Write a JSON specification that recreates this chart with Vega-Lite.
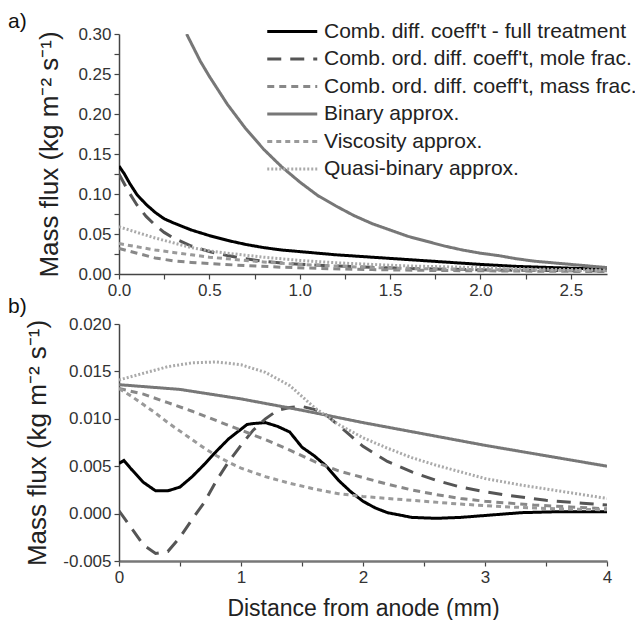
{
  "$schema": "https://vega.github.io/schema/vega-lite/v6.json",
  "padding": {"left": 8, "top": 11, "right": 5, "bottom": 0},
  "background": "white",
  "config": {
    "font": "Liberation Sans",
    "view": {"stroke": null},
    "axis": {"grid": false, "domainColor": "#444", "domainWidth": 1.5, "tickColor": "#444", "tickWidth": 1.2, "tickSize": 5, "labelFontSize": 17, "labelColor": "#333", "labelPadding": 3, "titleFontSize": 26, "titleFontWeight": "normal", "titleColor": "#222"},
    "title": {"fontSize": 21, "fontWeight": "normal", "color": "#111", "anchor": "start", "frame": "group"},
    "legend": {"labelLimit": 400, "title": null, "orient": "none", "legendX": 144, "legendY": -13, "symbolType": "M-1,0H7", "symbolSize": 156.25, "labelFontSize": 21, "labelColor": "#222", "labelOffset": 40, "rowPadding": 5.5, "padding": 0}
  },
  "datasets": {
    "a": [
      {"s":"F","x":0,"y":0.135},{"s":"F","x":0.03,"y":0.125},{"s":"F","x":0.06,"y":0.113},{"s":"F","x":0.1,"y":0.099},{"s":"F","x":0.15,"y":0.087},{"s":"F","x":0.2,"y":0.077},{"s":"F","x":0.25,"y":0.069},{"s":"F","x":0.3,"y":0.064},{"s":"F","x":0.4,"y":0.055},{"s":"F","x":0.5,"y":0.048},{"s":"F","x":0.6,"y":0.042},{"s":"F","x":0.7,"y":0.037},{"s":"F","x":0.8,"y":0.033},{"s":"F","x":0.9,"y":0.030},{"s":"F","x":1.0,"y":0.028},{"s":"F","x":1.2,"y":0.024},{"s":"F","x":1.4,"y":0.021},{"s":"F","x":1.6,"y":0.018},{"s":"F","x":1.8,"y":0.015},{"s":"F","x":2.0,"y":0.012},{"s":"F","x":2.2,"y":0.0095},{"s":"F","x":2.4,"y":0.008},{"s":"F","x":2.6,"y":0.0065},{"s":"F","x":2.7,"y":0.006},
      {"s":"Mo","x":0,"y":0.125},{"s":"Mo","x":0.05,"y":0.104},{"s":"Mo","x":0.1,"y":0.086},{"s":"Mo","x":0.15,"y":0.072},{"s":"Mo","x":0.2,"y":0.061},{"s":"Mo","x":0.25,"y":0.052},{"s":"Mo","x":0.3,"y":0.045},{"s":"Mo","x":0.4,"y":0.035},{"s":"Mo","x":0.5,"y":0.028},{"s":"Mo","x":0.6,"y":0.023},{"s":"Mo","x":0.7,"y":0.019},{"s":"Mo","x":0.8,"y":0.0158},{"s":"Mo","x":0.9,"y":0.0138},{"s":"Mo","x":1.0,"y":0.0122},{"s":"Mo","x":1.2,"y":0.0100},{"s":"Mo","x":1.4,"y":0.0083},{"s":"Mo","x":1.6,"y":0.0070},{"s":"Mo","x":1.8,"y":0.0060},{"s":"Mo","x":2.0,"y":0.0052},{"s":"Mo","x":2.3,"y":0.0045},{"s":"Mo","x":2.7,"y":0.0038},
      {"s":"Ma","x":0,"y":0.032},{"s":"Ma","x":0.1,"y":0.026},{"s":"Ma","x":0.2,"y":0.020},{"s":"Ma","x":0.3,"y":0.0165},{"s":"Ma","x":0.4,"y":0.0145},{"s":"Ma","x":0.5,"y":0.013},{"s":"Ma","x":0.7,"y":0.0105},{"s":"Ma","x":0.9,"y":0.0085},{"s":"Ma","x":1.1,"y":0.007},{"s":"Ma","x":1.4,"y":0.0055},{"s":"Ma","x":1.7,"y":0.0045},{"s":"Ma","x":2.0,"y":0.004},{"s":"Ma","x":2.35,"y":0.0035},{"s":"Ma","x":2.7,"y":0.003},
      {"s":"B","x":0.374,"y":0.30},{"s":"B","x":0.45,"y":0.266},{"s":"B","x":0.5,"y":0.247},{"s":"B","x":0.6,"y":0.212},{"s":"B","x":0.7,"y":0.182},{"s":"B","x":0.8,"y":0.156},{"s":"B","x":0.9,"y":0.134},{"s":"B","x":1.0,"y":0.115},{"s":"B","x":1.1,"y":0.098},{"s":"B","x":1.2,"y":0.085},{"s":"B","x":1.3,"y":0.073},{"s":"B","x":1.4,"y":0.063},{"s":"B","x":1.5,"y":0.055},{"s":"B","x":1.6,"y":0.047},{"s":"B","x":1.7,"y":0.041},{"s":"B","x":1.8,"y":0.035},{"s":"B","x":1.9,"y":0.030},{"s":"B","x":2.0,"y":0.026},{"s":"B","x":2.1,"y":0.023},{"s":"B","x":2.2,"y":0.019},{"s":"B","x":2.3,"y":0.016},{"s":"B","x":2.4,"y":0.014},{"s":"B","x":2.5,"y":0.012},{"s":"B","x":2.6,"y":0.010},{"s":"B","x":2.7,"y":0.008},
      {"s":"V","x":0,"y":0.038},{"s":"V","x":0.1,"y":0.034},{"s":"V","x":0.2,"y":0.030},{"s":"V","x":0.3,"y":0.027},{"s":"V","x":0.4,"y":0.024},{"s":"V","x":0.5,"y":0.021},{"s":"V","x":0.6,"y":0.019},{"s":"V","x":0.7,"y":0.017},{"s":"V","x":0.8,"y":0.015},{"s":"V","x":1.0,"y":0.012},{"s":"V","x":1.2,"y":0.010},{"s":"V","x":1.4,"y":0.008},{"s":"V","x":1.7,"y":0.0065},{"s":"V","x":2.0,"y":0.0055},{"s":"V","x":2.3,"y":0.0048},{"s":"V","x":2.7,"y":0.004},
      {"s":"Q","x":0,"y":0.059},{"s":"Q","x":0.1,"y":0.052},{"s":"Q","x":0.2,"y":0.045},{"s":"Q","x":0.3,"y":0.039},{"s":"Q","x":0.4,"y":0.033},{"s":"Q","x":0.5,"y":0.029},{"s":"Q","x":0.6,"y":0.026},{"s":"Q","x":0.8,"y":0.021},{"s":"Q","x":1.0,"y":0.017},{"s":"Q","x":1.2,"y":0.014},{"s":"Q","x":1.4,"y":0.012},{"s":"Q","x":1.6,"y":0.010},{"s":"Q","x":1.8,"y":0.009},{"s":"Q","x":2.0,"y":0.008},{"s":"Q","x":2.3,"y":0.006},{"s":"Q","x":2.7,"y":0.005}
    ],
    "b": [
      {"s":"F","x":0,"y":0.0053},{"s":"F","x":0.04,"y":0.0056},{"s":"F","x":0.1,"y":0.0047},{"s":"F","x":0.2,"y":0.0033},{"s":"F","x":0.3,"y":0.0024},{"s":"F","x":0.4,"y":0.0024},{"s":"F","x":0.5,"y":0.0028},{"s":"F","x":0.6,"y":0.0039},{"s":"F","x":0.7,"y":0.0052},{"s":"F","x":0.8,"y":0.0066},{"s":"F","x":0.9,"y":0.0079},{"s":"F","x":1.0,"y":0.0089},{"s":"F","x":1.05,"y":0.0094},{"s":"F","x":1.1,"y":0.0095},{"s":"F","x":1.2,"y":0.0096},{"s":"F","x":1.3,"y":0.0092},{"s":"F","x":1.4,"y":0.0086},{"s":"F","x":1.5,"y":0.0070},{"s":"F","x":1.6,"y":0.0061},{"s":"F","x":1.7,"y":0.0050},{"s":"F","x":1.8,"y":0.0035},{"s":"F","x":1.9,"y":0.0023},{"s":"F","x":2.0,"y":0.0013},{"s":"F","x":2.1,"y":0.0006},{"s":"F","x":2.2,"y":0.0001},{"s":"F","x":2.4,"y":-0.0004},{"s":"F","x":2.6,"y":-0.0005},{"s":"F","x":2.8,"y":-0.0004},{"s":"F","x":3.0,"y":-0.0002},{"s":"F","x":3.3,"y":0.0001},{"s":"F","x":3.6,"y":0.0002},{"s":"F","x":4.0,"y":0.0002},
      {"s":"Mo","x":0,"y":0.0003},{"s":"Mo","x":0.1,"y":-0.0015},{"s":"Mo","x":0.2,"y":-0.0033},{"s":"Mo","x":0.3,"y":-0.0042},{"s":"Mo","x":0.4,"y":-0.0040},{"s":"Mo","x":0.5,"y":-0.0025},{"s":"Mo","x":0.6,"y":-0.0006},{"s":"Mo","x":0.7,"y":0.0012},{"s":"Mo","x":0.8,"y":0.0035},{"s":"Mo","x":0.9,"y":0.0055},{"s":"Mo","x":1.0,"y":0.0072},{"s":"Mo","x":1.1,"y":0.0088},{"s":"Mo","x":1.2,"y":0.0100},{"s":"Mo","x":1.3,"y":0.0109},{"s":"Mo","x":1.4,"y":0.0112},{"s":"Mo","x":1.5,"y":0.0113},{"s":"Mo","x":1.6,"y":0.0110},{"s":"Mo","x":1.7,"y":0.0104},{"s":"Mo","x":1.8,"y":0.0093},{"s":"Mo","x":1.9,"y":0.0082},{"s":"Mo","x":2.0,"y":0.0071},{"s":"Mo","x":2.2,"y":0.0055},{"s":"Mo","x":2.4,"y":0.0044},{"s":"Mo","x":2.6,"y":0.0035},{"s":"Mo","x":2.8,"y":0.0028},{"s":"Mo","x":3.0,"y":0.0023},{"s":"Mo","x":3.2,"y":0.0019},{"s":"Mo","x":3.5,"y":0.0014},{"s":"Mo","x":3.8,"y":0.0011},{"s":"Mo","x":4.0,"y":0.0009},
      {"s":"Ma","x":0,"y":0.0132},{"s":"Ma","x":0.2,"y":0.0126},{"s":"Ma","x":0.4,"y":0.0117},{"s":"Ma","x":0.6,"y":0.0108},{"s":"Ma","x":0.8,"y":0.0098},{"s":"Ma","x":1.0,"y":0.0088},{"s":"Ma","x":1.2,"y":0.0078},{"s":"Ma","x":1.4,"y":0.0067},{"s":"Ma","x":1.6,"y":0.0055},{"s":"Ma","x":1.8,"y":0.0045},{"s":"Ma","x":2.0,"y":0.0038},{"s":"Ma","x":2.2,"y":0.0031},{"s":"Ma","x":2.4,"y":0.0025},{"s":"Ma","x":2.6,"y":0.0020},{"s":"Ma","x":2.8,"y":0.0016},{"s":"Ma","x":3.0,"y":0.0013},{"s":"Ma","x":3.4,"y":0.0009},{"s":"Ma","x":3.7,"y":0.0007},{"s":"Ma","x":4.0,"y":0.0005},
      {"s":"B","x":0,"y":0.0136},{"s":"B","x":0.5,"y":0.0131},{"s":"B","x":1.0,"y":0.0121},{"s":"B","x":1.5,"y":0.0109},{"s":"B","x":2.0,"y":0.0096},{"s":"B","x":2.5,"y":0.0084},{"s":"B","x":3.0,"y":0.0072},{"s":"B","x":3.5,"y":0.0061},{"s":"B","x":4.0,"y":0.0050},
      {"s":"V","x":0,"y":0.0132},{"s":"V","x":0.1,"y":0.0124},{"s":"V","x":0.2,"y":0.0115},{"s":"V","x":0.3,"y":0.0106},{"s":"V","x":0.4,"y":0.0096},{"s":"V","x":0.5,"y":0.0087},{"s":"V","x":0.6,"y":0.0078},{"s":"V","x":0.7,"y":0.0069},{"s":"V","x":0.8,"y":0.0061},{"s":"V","x":0.9,"y":0.0054},{"s":"V","x":1.0,"y":0.0048},{"s":"V","x":1.2,"y":0.0039},{"s":"V","x":1.4,"y":0.0032},{"s":"V","x":1.6,"y":0.0026},{"s":"V","x":1.8,"y":0.0021},{"s":"V","x":2.0,"y":0.0018},{"s":"V","x":2.4,"y":0.0014},{"s":"V","x":2.8,"y":0.0010},{"s":"V","x":3.2,"y":0.0007},{"s":"V","x":3.6,"y":0.0005},{"s":"V","x":4.0,"y":0.0004},
      {"s":"Q","x":0,"y":0.0141},{"s":"Q","x":0.2,"y":0.0148},{"s":"Q","x":0.4,"y":0.0155},{"s":"Q","x":0.6,"y":0.0159},{"s":"Q","x":0.8,"y":0.0160},{"s":"Q","x":1.0,"y":0.0157},{"s":"Q","x":1.2,"y":0.0149},{"s":"Q","x":1.4,"y":0.0135},{"s":"Q","x":1.6,"y":0.0112},{"s":"Q","x":1.7,"y":0.0103},{"s":"Q","x":1.8,"y":0.0094},{"s":"Q","x":2.0,"y":0.0080},{"s":"Q","x":2.2,"y":0.0069},{"s":"Q","x":2.4,"y":0.0059},{"s":"Q","x":2.6,"y":0.0051},{"s":"Q","x":2.8,"y":0.0044},{"s":"Q","x":3.0,"y":0.0037},{"s":"Q","x":3.3,"y":0.0030},{"s":"Q","x":3.6,"y":0.0024},{"s":"Q","x":4.0,"y":0.0016}
    ]
  },
  "resolve": {"scale": {"color": "independent", "strokeDash": "independent", "strokeWidth": "independent"}, "legend": {"color": "independent", "strokeDash": "independent", "strokeWidth": "independent"}},
  "spacing": -2,
  "vconcat": [
    {
      "title": {"text": "a)", "dx": -111, "offset": -11},
      "width": 488,
      "height": 240,
      "data": {"name": "a"},
      "mark": {"type": "line", "clip": true},
      "encoding": {
        "x": {"field": "x", "type": "quantitative", "scale": {"domain": [0, 2.7], "nice": false, "zero": false},
          "axis": {"title": null, "values": [0,0.25,0.5,0.75,1,1.25,1.5,1.75,2,2.25,2.5], "labelExpr": "round(datum.value*100) % 50 == 0 ? format(datum.value, '.1f') : ''", "labelFlush": false}},
        "y": {"field": "y", "type": "quantitative", "scale": {"domain": [0, 0.3], "nice": false},
          "axis": {"title": "Mass flux (kg m⁻² s⁻¹)", "titleX": -57, "titleBaseline": "bottom", "values": [0,0.025,0.05,0.075,0.1,0.125,0.15,0.175,0.2,0.225,0.25,0.275,0.3], "labelExpr": "round(datum.value*1000) % 50 == 0 ? format(datum.value, '.2f') : ''", "labelFlush": false}},
        "color": {"field": "s", "type": "nominal", "scale": {"domain": ["F","Mo","Ma","B","V","Q"], "range": ["#000000","#555555","#888888","#777777","#9a9a9a","#aaaaaa"]},
          "legend": {"labelExpr": "datum.label == 'F' ? 'Comb. diff. coeff\\'t - full treatment' : datum.label == 'Mo' ? 'Comb. ord. diff. coeff\\'t, mole frac.' : datum.label == 'Ma' ? 'Comb. ord. diff. coeff\\'t, mass frac.' : datum.label == 'B' ? 'Binary approx.' : datum.label == 'V' ? 'Viscosity approx.' : 'Quasi-binary approx.'"}},
        "strokeDash": {"field": "s", "type": "nominal", "scale": {"domain": ["F","Mo","Ma","B","V","Q"], "range": [[1,0],[14,9],[7,5],[1,0],[5,4],[2,2]]},
          "legend": {"labelExpr": "datum.label == 'F' ? 'Comb. diff. coeff\\'t - full treatment' : datum.label == 'Mo' ? 'Comb. ord. diff. coeff\\'t, mole frac.' : datum.label == 'Ma' ? 'Comb. ord. diff. coeff\\'t, mass frac.' : datum.label == 'B' ? 'Binary approx.' : datum.label == 'V' ? 'Viscosity approx.' : 'Quasi-binary approx.'"}},
        "strokeWidth": {"field": "s", "type": "nominal", "scale": {"domain": ["F","Mo","Ma","B","V","Q"], "range": [3,3,2.5,1.4,1.5,1.5]},
          "legend": {"labelExpr": "datum.label == 'F' ? 'Comb. diff. coeff\\'t - full treatment' : datum.label == 'Mo' ? 'Comb. ord. diff. coeff\\'t, mole frac.' : datum.label == 'Ma' ? 'Comb. ord. diff. coeff\\'t, mass frac.' : datum.label == 'B' ? 'Binary approx.' : datum.label == 'V' ? 'Viscosity approx.' : 'Quasi-binary approx.'"}}
      }
    },
    {
      "title": {"text": "b)", "dx": -111, "offset": -2},
      "width": 488,
      "height": 237,
      "layer": [
        {
          "data": {"name": "b"},
          "mark": {"type": "line", "clip": true},
          "encoding": {
            "x": {"field": "x", "type": "quantitative", "scale": {"domain": [0, 4], "nice": false, "zero": false},
              "axis": {"title": "Distance from anode (mm)", "titleFontSize": 23, "titlePadding": 12, "values": [0,0.5,1,1.5,2,2.5,3,3.5,4], "labelExpr": "datum.value % 1 == 0 ? format(datum.value, 'd') : ''", "labelFlush": false, "domainWidth": 2.5, "domainColor": "#777"}},
            "y": {"field": "y", "type": "quantitative", "scale": {"domain": [-0.005, 0.02], "nice": false, "zero": false},
              "axis": {"title": "Mass flux (kg m⁻² s⁻¹)", "titleX": -69, "titleBaseline": "bottom", "values": [-0.005,-0.0025,0,0.0025,0.005,0.0075,0.01,0.0125,0.015,0.0175,0.02], "labelExpr": "abs(round(datum.value*10000) % 50) < 1 ? replace(format(datum.value, '.3f'), '−', '-') : ''", "labelFlush": false}},
            "color": {"field": "s", "type": "nominal", "scale": {"domain": ["F","Mo","Ma","B","V","Q"], "range": ["#000000","#555555","#888888","#777777","#9a9a9a","#aaaaaa"]}, "legend": null},
            "strokeDash": {"field": "s", "type": "nominal", "scale": {"domain": ["F","Mo","Ma","B","V","Q"], "range": [[1,0],[14,9],[7,5],[1,0],[5,4],[2,2]]}, "legend": null},
            "strokeWidth": {"field": "s", "type": "nominal", "scale": {"domain": ["F","Mo","Ma","B","V","Q"], "range": [3,3,2.5,1.4,1.5,1.5]}, "legend": null}
          }
        },
        {
          "mark": {"type": "rule", "color": "#333", "strokeWidth": 1.5},
          "encoding": {"y": {"datum": 0}}
        }
      ]
    }
  ]
}
